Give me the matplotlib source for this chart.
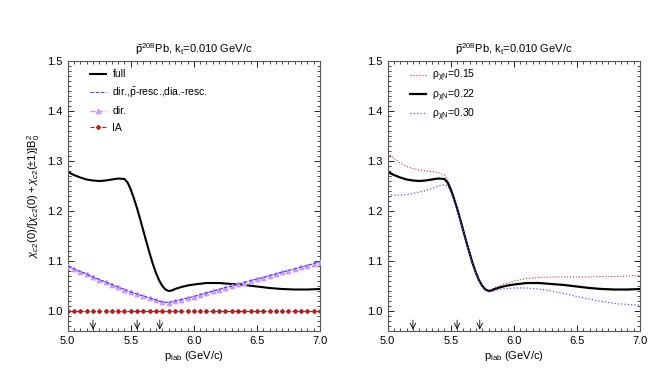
import numpy as np
import matplotlib
matplotlib.use("Agg")
import matplotlib.pyplot as plt
from matplotlib.ticker import MultipleLocator

plt.rcParams['font.family'] = ['Liberation Sans', 'DejaVu Sans']
plt.rcParams['mathtext.fontset'] = 'custom'
plt.rcParams['mathtext.rm'] = 'Liberation Sans'
plt.rcParams['mathtext.it'] = 'Liberation Sans:italic'

# p_lab grid for the smooth curves
p = [5.0, 5.05, 5.1, 5.15, 5.2, 5.25, 5.3, 5.35, 5.4, 5.45, 5.475, 5.5, 5.525,
     5.55, 5.575, 5.6, 5.625, 5.65, 5.675, 5.7, 5.725, 5.75, 5.775, 5.8, 5.825,
     5.85, 5.9, 5.95, 6.0, 6.1, 6.2, 6.3, 6.4, 6.5, 6.6, 6.7, 6.8, 6.9, 7.0]

# full (= rho 0.22)
full = [1.278, 1.272, 1.267, 1.263, 1.261, 1.260, 1.261, 1.263, 1.265, 1.264,
        1.257, 1.243, 1.225, 1.205, 1.183, 1.160, 1.137, 1.115, 1.094, 1.076,
        1.061, 1.050, 1.043, 1.040, 1.041, 1.044, 1.048, 1.051, 1.053, 1.056,
        1.056, 1.054, 1.052, 1.049, 1.046, 1.044, 1.043, 1.043, 1.044]
rho015 = [1.316, 1.305, 1.296, 1.289, 1.285, 1.282, 1.280, 1.279, 1.277, 1.272,
          1.263, 1.247, 1.227, 1.206, 1.184, 1.161, 1.138, 1.116, 1.095, 1.077,
          1.062, 1.051, 1.044, 1.042, 1.044, 1.047, 1.052, 1.056, 1.060, 1.065,
          1.067, 1.068, 1.068, 1.068, 1.068, 1.069, 1.069, 1.070, 1.071]
rho030 = [1.233, 1.232, 1.232, 1.233, 1.235, 1.238, 1.241, 1.245, 1.250, 1.253,
          1.250, 1.238, 1.222, 1.203, 1.181, 1.159, 1.136, 1.114, 1.093, 1.075,
          1.060, 1.048, 1.041, 1.038, 1.039, 1.041, 1.044, 1.045, 1.046, 1.046,
          1.044, 1.040, 1.035, 1.029, 1.024, 1.019, 1.015, 1.013, 1.012]

# marker grid for dir. / IA
p_m = [5.0, 5.05, 5.1, 5.15, 5.2, 5.25, 5.3, 5.35, 5.4, 5.45, 5.5, 5.55, 5.6,
       5.65, 5.7, 5.75, 5.8, 5.85, 5.9, 5.95, 6.0, 6.05, 6.1, 6.15, 6.2, 6.25,
       6.3, 6.35, 6.4, 6.45, 6.5, 6.55, 6.6, 6.65, 6.7, 6.75, 6.8, 6.85, 6.9,
       6.95, 7.0]
dirr = [1.090, 1.084, 1.079, 1.074, 1.068, 1.063, 1.058, 1.053, 1.048, 1.043,
        1.038, 1.034, 1.030, 1.026, 1.022, 1.018, 1.017, 1.020, 1.023, 1.026,
        1.029, 1.033, 1.036, 1.040, 1.043, 1.047, 1.050, 1.054, 1.057, 1.061,
        1.064, 1.067, 1.071, 1.074, 1.078, 1.081, 1.084, 1.088, 1.091, 1.095,
        1.099]
resc = dirr
ia = [1.0] * len(p_m)

arrows = [5.2, 5.55, 5.73]

title = r'$\bar{\rm p}^{208}$Pb, k$_{\rm t}$=0.010 GeV/c'
fs = 8

fig = plt.figure(figsize=(6.6, 3.78), dpi=100)
axL = fig.add_axes([0.1026, 0.1243, 0.3823, 0.7143])
axR = fig.add_axes([0.5874, 0.1243, 0.3823, 0.7143])

axL.plot(p, full, color='black', lw=1.5, label='full')
axL.plot(p_m, resc, color='#3333ff', lw=0.7, ls='--', label=r'dir.,$\bar{\rm p}$-resc.,dia.-resc.', zorder=4)
axL.plot(p_m, dirr, color='#cc99ff', lw=1.0, ls='--', marker='^', ms=3.2, label='dir.', zorder=3)
axL.plot(p_m, ia, color='#b22222', lw=0.8, ls='--', marker='D', ms=2.0, label='IA')

axR.plot(p, rho015, color='#cc3333', lw=0.8, ls=':', label=r'ρ$_{\rm χN}$=0.15')
axR.plot(p, full, color='black', lw=1.6, label=r'ρ$_{\rm χN}$=0.22')
axR.plot(p, rho030, color='#5555ff', lw=0.9, ls=':', label=r'ρ$_{\rm χN}$=0.30')

for ax in (axL, axR):
    ax.set_xlim(5.0, 7.0)
    ax.set_ylim(0.96, 1.5)
    ax.xaxis.set_major_locator(MultipleLocator(0.5))
    ax.xaxis.set_minor_locator(MultipleLocator(0.05))
    ax.yaxis.set_major_locator(MultipleLocator(0.1))
    ax.yaxis.set_minor_locator(MultipleLocator(0.01))
    ax.tick_params(which='both', direction='in', top=True, right=True, labelsize=fs)
    ax.tick_params(which='major', length=4, width=0.6)
    ax.tick_params(which='minor', length=2, width=0.5)
    ax.xaxis.set_major_formatter(matplotlib.ticker.FormatStrFormatter('%.1f'))
    ax.yaxis.set_major_formatter(matplotlib.ticker.FormatStrFormatter('%.1f'))
    for s in ax.spines.values():
        s.set_color('#555555')
        s.set_linewidth(0.8)
    ax.set_title(title, fontsize=fs, pad=6)
    ax.set_xlabel(r'p$_{\rm lab}$ (GeV/c)', fontsize=fs, labelpad=2)
    for a in arrows:
        ax.annotate('', xy=(a, 0.963), xytext=(a, 0.982),
                    arrowprops=dict(arrowstyle='->', lw=0.6, color='black',
                                    shrinkA=0, shrinkB=0))

axL.legend(loc='upper left', frameon=False, fontsize=fs - 0.5,
           handlelength=1.6, handletextpad=0.6, labelspacing=0.62,
           borderaxespad=0.0, bbox_to_anchor=(0.07, 0.985))
axR.legend(loc='upper left', frameon=False, fontsize=fs - 0.5,
           handlelength=1.6, handletextpad=0.6, labelspacing=0.28,
           borderaxespad=0.0, bbox_to_anchor=(0.07, 0.99))

axL.set_ylabel(r'$\chi_{c2}(0)/[\chi_{c2}(0)+\chi_{c2}(\pm1)]{\rm B}_0^2$', fontsize=fs, labelpad=4)

fig.savefig('out.png', dpi=100)
